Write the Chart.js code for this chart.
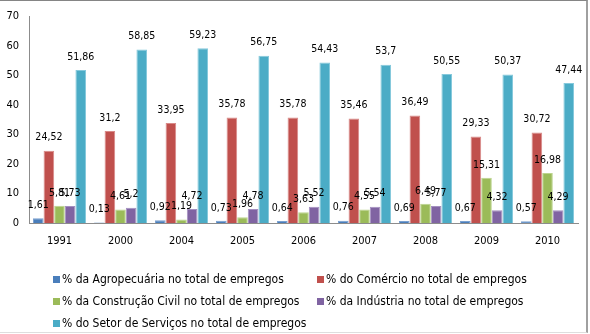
<!DOCTYPE html>
<html>
<head>
<meta charset="utf-8">
<script src="https://cdn.jsdelivr.net/npm/chart.js@4.4.1/dist/chart.umd.min.js"></script>
<style>
    html, body { margin: 0; padding: 0; background: #fff; }
    #wrap {
        position: relative;
        width: 590px;
        height: 334px;
        overflow: hidden;
        font-family: "Liberation Sans Narrow", "Arial Narrow", "DejaVu Sans Condensed", sans-serif;
    }
    #chart { position: absolute; left: 0; top: 0; }
    #frame {
        position: absolute;
        left: -2px; top: 0;
        width: 590px; height: 333px;
        border-top: 1px solid #858585;
        border-right: 2px solid #a0a0a0;
        border-bottom: 1px solid #dedede;
        box-sizing: border-box;
        pointer-events: none;
    }
    #legend {
        position: absolute;
        left: 0; top: 0;
        width: 590px; height: 334px;
        pointer-events: none;
    }
    .item {
        position: absolute;
        font-size: 12px;
        color: #000;
        white-space: nowrap;
        line-height: 14px;
    }
    .item span.box {
        display: inline-block;
        width: 7px; height: 7px;
        margin-right: 2px;
        vertical-align: 0px;
    }
</style>
</head>
<body>
<div id="wrap">
    <canvas id="chart" width="590" height="251"></canvas>
    <div id="legend"></div>
    <div id="frame"></div>
</div>
<script>
const years = ['1991', '2000', '2004', '2005', '2006', '2007', '2008', '2009', '2010'];

const agropecuaria = [1.61, 0.13, 0.92, 0.73, 0.64, 0.76, 0.69, 0.67, 0.57];
const comercio     = [24.52, 31.2, 33.95, 35.78, 35.78, 35.46, 36.49, 29.33, 30.72];
const construcao   = [5.81, 4.61, 1.19, 1.96, 3.63, 4.55, 6.49, 15.31, 16.98];
const industria    = [5.73, 5.2, 4.72, 4.78, 5.52, 5.54, 5.77, 4.32, 4.29];
const servicos     = [51.86, 58.85, 59.23, 56.75, 54.43, 53.7, 50.55, 50.37, 47.44];

const seriesNames = [
    '% da Agropecuária no total de empregos',
    '% do Comércio no total de empregos',
    '% da Construção Civil no total de empregos',
    '% da Indústria no total de empregos',
    '% do Setor de Serviços no total de empregos',
];

const yTicks = [0, 10, 20, 30, 40, 50, 60, 70];

const fills   = ['#4a7ebb', '#c0504d', '#9bbb59', '#8064a2', '#4bacc6'];
const borders = ['#7aa0d0', '#d98a88', '#bcd48e', '#a48fc0', '#85c9dc'];

const fontFamily = '"Liberation Sans Narrow", "Arial Narrow", "DejaVu Sans Condensed", sans-serif';

// value labels above every bar, written with a comma like the original
const barLabels = {
    id: 'barLabels',
    afterDatasetsDraw(chart) {
        const ctx = chart.ctx;
        ctx.save();
        ctx.font = '10.5px ' + fontFamily;
        ctx.fillStyle = '#000';
        ctx.textAlign = 'center';
        ctx.textBaseline = 'middle';
        chart.data.datasets.forEach((ds, i) => {
            const meta = chart.getDatasetMeta(i);
            meta.data.forEach((bar, j) => {
                const txt = String(ds.data[j]).replace('.', ',');
                ctx.fillText(txt, bar.x, bar.y - 13);
            });
        });
        ctx.restore();
    }
};

const ctx = document.getElementById('chart').getContext('2d');
const chart = new Chart(ctx, {
    type: 'bar',
    data: {
        labels: years,
        datasets: [agropecuaria, comercio, construcao, industria, servicos].map((d, i) => ({
            label: seriesNames[i],
            data: d,
            backgroundColor: fills[i],
            borderColor: borders[i],
            borderWidth: 1,
            categoryPercentage: 0.87,
            barPercentage: 1.0,
        })),
    },
    options: {
        responsive: false,
        animation: false,
        layout: {
            padding: { left: 0, right: 12, top: 15, bottom: 0 },
        },
        scales: {
            x: {
                grid: { display: false, drawTicks: false },
                border: { display: true, color: '#8c8c8c', width: 1 },
                ticks: {
                    padding: 12,
                    color: '#000',
                    font: { family: fontFamily, size: 11 },
                },
                afterFit: (scale) => { scale.height = 28; },
            },
            y: {
                min: 0,
                max: 70,
                grid: { display: false, drawTicks: false },
                border: { display: true, color: '#8c8c8c', width: 1 },
                afterBuildTicks: (scale) => { scale.ticks = yTicks.map(v => ({ value: v })); },
                ticks: {
                    padding: 10,
                    color: '#000',
                    font: { family: fontFamily, size: 11 },
                },
                afterFit: (scale) => { scale.width = 29; },
            },
        },
        plugins: {
            legend: { display: false },
            tooltip: { enabled: false },
        },
    },
    plugins: [barLabels],
});

// legend laid out in two columns like the original
const legendPos = [
    [53, 272], [317, 272],
    [53, 294], [317, 294],
    [53, 316],
];
const legend = document.getElementById('legend');
chart.data.datasets.forEach((ds, i) => {
    const item = document.createElement('div');
    item.className = 'item';
    item.style.left = legendPos[i][0] + 'px';
    item.style.top = legendPos[i][1] + 'px';
    const box = document.createElement('span');
    box.className = 'box';
    box.style.background = ds.backgroundColor;
    item.appendChild(box);
    item.appendChild(document.createTextNode(ds.label));
    legend.appendChild(item);
});
</script>
</body>
</html>
